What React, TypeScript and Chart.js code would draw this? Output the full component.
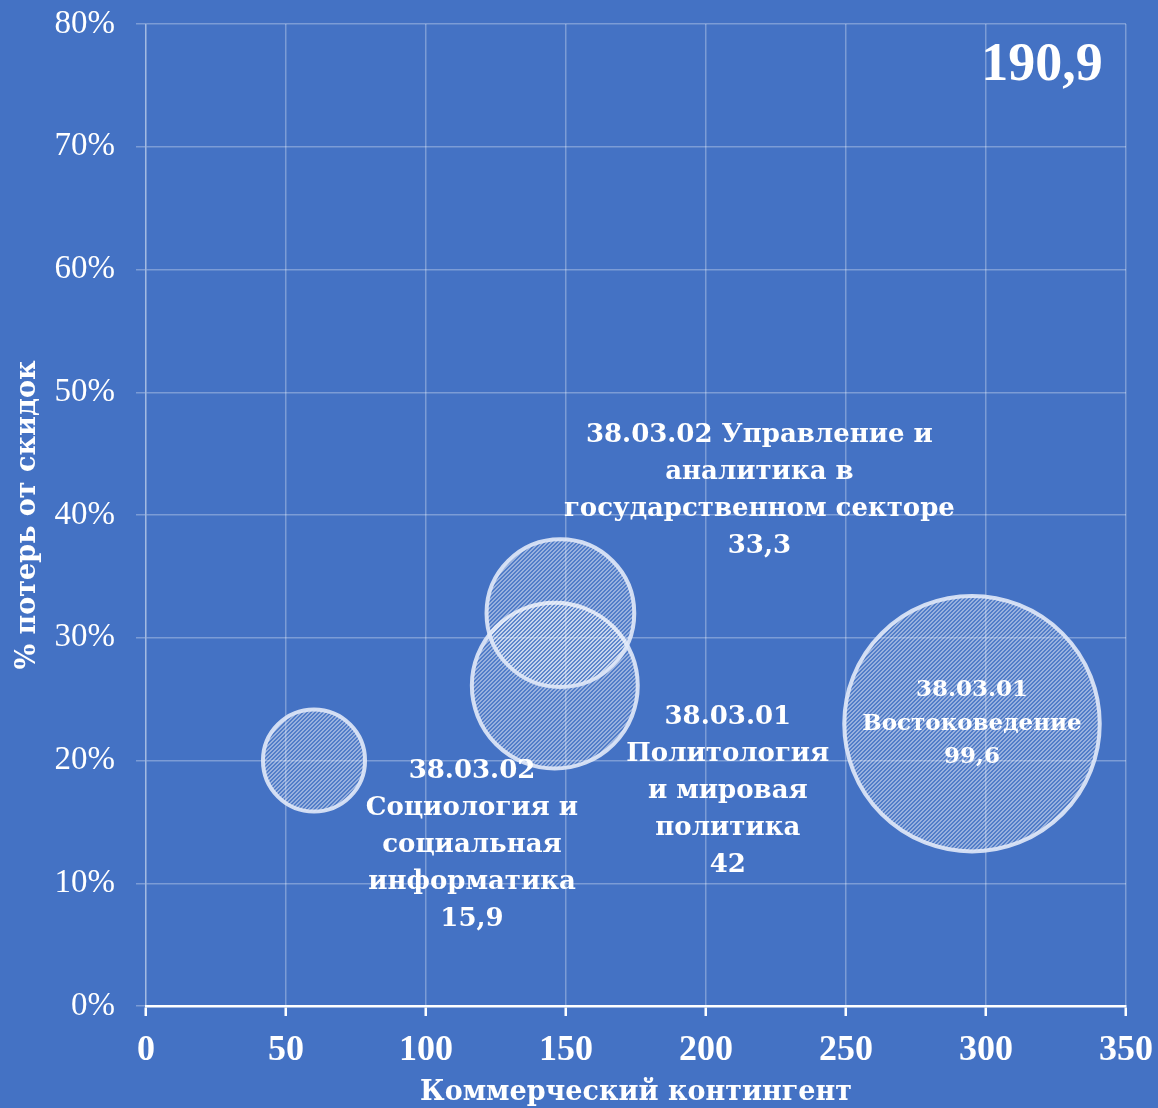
import React, { useEffect, useRef } from "react";
import { Chart, registerables } from "chart.js";

Chart.register(...registerables);

// ---- data ----
const categories = [
  "38.03.02 Социология и социальная информатика",
  "38.03.01 Политология и мировая политика",
  "38.03.02 Управление и аналитика в государственном секторе",
  "38.03.01 Востоковедение",
];
const commercialCount = [60, 146, 148, 295];
const discountLossPct = [20.0, 26.1, 32.0, 23.0];
const bubbleSizes = [15.9, 42, 33.3, 99.6];
const labelLines = [
  ["38.03.02", "Социология и", "социальная", "информатика", "15,9"],
  ["38.03.01", "Политология", "и мировая", "политика", "42"],
  ["38.03.02 Управление и", "аналитика в", "государственном секторе", "33,3"],
  ["38.03.01", "Востоковедение", "99,6"],
];
const totalLabel = "190,9";
const xTitle = "Коммерческий контингент";
const yTitle = "% потерь от скидок";

// ---- layout / style (not data) ----
const W = 1158;
const H = 1108;
const BG = "#4472C4";
const GRID = "rgba(255,255,255,0.3)";
const RADIUS_PER_SQRT = 12.8;
const labelStyle = [
  { dx: 158, dy: 85, size: 26, lh: 37 },
  { dx: 173, dy: 106, size: 26, lh: 37 },
  { dx: 199, dy: -122, size: 26, lh: 37 },
  { dx: 0, dy: 0, size: 23, lh: 33.5 },
];

function makePattern(ctx: CanvasRenderingContext2D) {
  const c = document.createElement("canvas");
  c.width = 4;
  c.height = 4;
  const p = c.getContext("2d")!;
  for (let y = 0; y < 4; y++) {
    for (let x = 0; x < 4; x++) {
      p.fillStyle = (x + y) % 4 < 2 ? "rgba(255,255,255,0.45)" : "rgba(255,255,255,0.08)";
      p.fillRect(x, y, 1, 1);
    }
  }
  return ctx.createPattern(c, "repeat")!;
}

export default function App() {
  const ref = useRef<HTMLCanvasElement | null>(null);

  useEffect(() => {
    document.body.style.margin = "0";
    document.body.style.background = BG;
    const canvas = ref.current!;
    const ctx = canvas.getContext("2d")!;
    const pattern = makePattern(ctx);

    const bgPlugin = {
      id: "bg",
      beforeDraw(chart: any) {
        const c = chart.ctx;
        c.save();
        c.fillStyle = BG;
        c.fillRect(0, 0, chart.width, chart.height);
        c.restore();
      },
    };

    const textPlugin = {
      id: "texts",
      afterDatasetsDraw(chart: any) {
        const c = chart.ctx;
        const meta = chart.getDatasetMeta(0);
        c.save();
        c.fillStyle = "#ffffff";
        c.textAlign = "center";
        c.textBaseline = "middle";
        meta.data.forEach((el: any, i: number) => {
          const st = labelStyle[i];
          const lines = labelLines[i];
          c.font = `bold ${st.size}px 'DejaVu Serif'`;
          const cx = el.x + st.dx;
          const cy = el.y + st.dy;
          const startY = cy - ((lines.length - 1) * st.lh) / 2;
          lines.forEach((ln, k) => c.fillText(ln, cx, startY + k * st.lh));
        });
        // total
        c.font = "bold 54px 'Liberation Serif'";
        c.fillText(totalLabel, 1042, 66);
        // axis titles
        const area = chart.chartArea;
        c.font = "bold 27px 'DejaVu Serif'";
        c.fillText(xTitle, (area.left + area.right) / 2, 1093);
        c.translate(28, (area.top + area.bottom) / 2);
        c.rotate(-Math.PI / 2);
        c.fillText(yTitle, 0, 0);
        c.restore();
      },
    };

    const chart = new Chart(canvas, {
      type: "bubble",
      data: {
        labels: categories,
        datasets: [
          {
            label: "Направления",
            data: commercialCount.map((x, i) => ({
              x,
              y: discountLossPct[i],
              r: RADIUS_PER_SQRT * Math.sqrt(bubbleSizes[i]),
            })),
            backgroundColor: pattern as any,
            borderColor: "rgba(225,233,248,0.9)",
            borderWidth: 4,
            hoverBorderWidth: 4,
          },
        ],
      },
      options: {
        responsive: false,
        animation: false,
        layout: { autoPadding: false, padding: { top: 24, right: 32, left: 0, bottom: 0 } },
        plugins: {
          legend: { display: false },
          tooltip: { enabled: false },
        },
        scales: {
          x: {
            type: "linear",
            min: 0,
            max: 350,
            afterFit: (s: any) => {
              s.height = 102;
              s.paddingLeft = 0;
              s.paddingRight = 0;
            },
            ticks: {
              stepSize: 50,
              color: "#ffffff",
              padding: 13,
              font: { family: "'Liberation Serif'", size: 36, weight: "bold" },
            },
            grid: {
              color: GRID,
              lineWidth: 1.5,
              tickColor: "#ffffff",
              tickLength: 10,
              tickWidth: 2.5,
            },
            border: { color: "#ffffff", width: 2.5 },
          },
          y: {
            min: 0,
            max: 80,
            afterFit: (s: any) => {
              s.width = 146;
              s.paddingTop = 0;
              s.paddingBottom = 0;
            },
            ticks: {
              stepSize: 10,
              color: "#ffffff",
              padding: 21,
              font: { family: "'Liberation Serif'", size: 33 },
              callback: (v: any) => `${v}%`,
            },
            grid: {
              color: GRID,
              lineWidth: 1.5,
              tickColor: GRID,
              tickLength: 10,
            },
            border: { color: GRID, width: 1.5 },
          },
        },
      },
      plugins: [bgPlugin, textPlugin],
    });

    return () => chart.destroy();
  }, []);

  return (
    <div style={{ width: W, height: H, background: BG }}>
      <canvas ref={ref} width={W} height={H} style={{ width: W, height: H, display: "block" }} />
    </div>
  );
}
